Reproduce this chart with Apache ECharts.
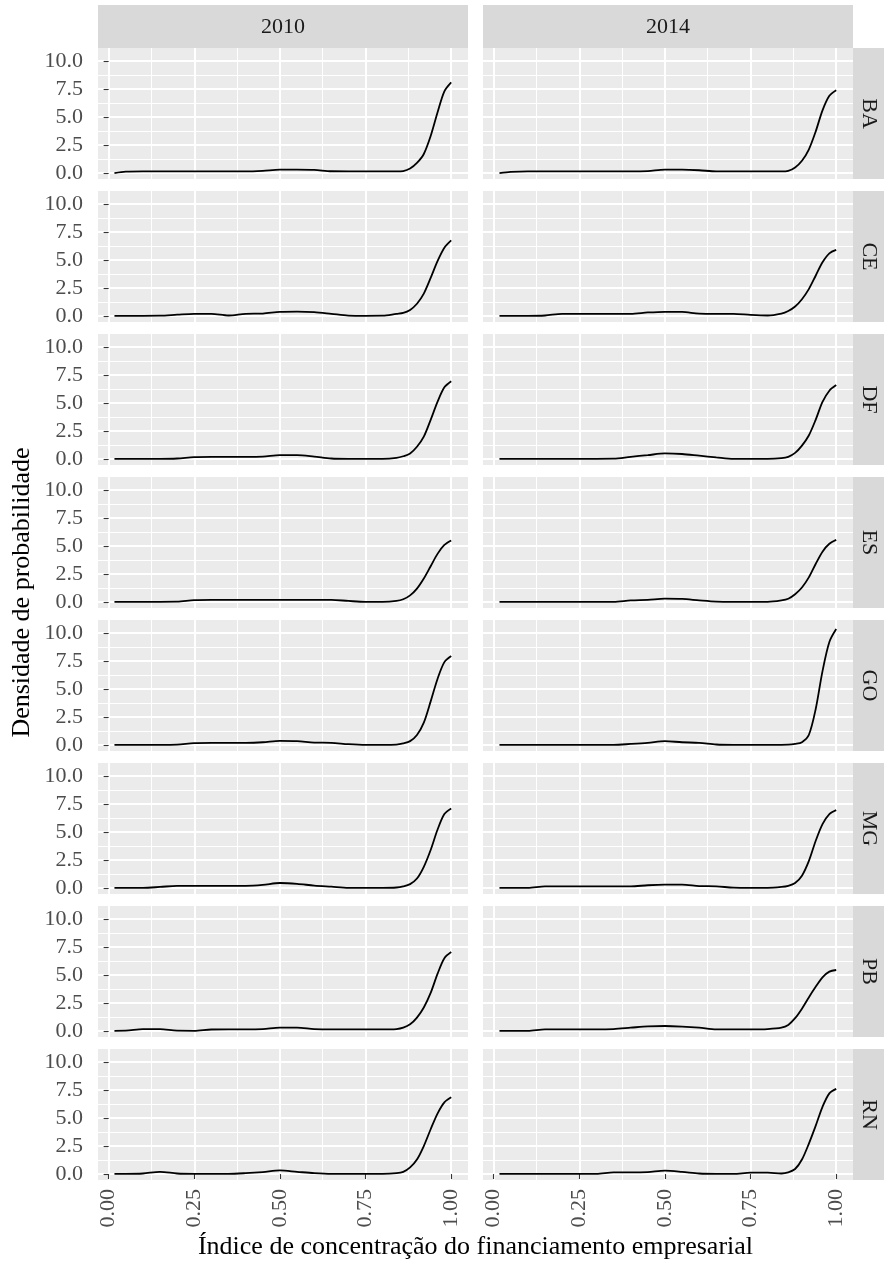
<!DOCTYPE html>
<html>
<head>
<meta charset="utf-8">
<script src="https://cdn.jsdelivr.net/npm/echarts@6/dist/echarts.min.js"></script>
<style>
  html, body { margin: 0; padding: 0; background: #ffffff; }
  #chart { width: 885px; height: 1272px; }
</style>
</head>
<body>
<div id="chart"></div>
<script>
// Facets: one column per election year, one row per state
const years = ['2010', '2014'];
const states = ['BA', 'CE', 'DF', 'ES', 'GO', 'MG', 'PB', 'RN'];

// Evaluation points of the density curves (concentration index)
const xPoints = [0.017, 0.05, 0.10, 0.15, 0.20, 0.25, 0.30, 0.35, 0.40, 0.45, 0.50, 0.55, 0.60,
                 0.65, 0.70, 0.75, 0.80, 0.84, 0.86, 0.88, 0.90, 0.92, 0.94, 0.96, 0.98, 1.00];

// Tick values and labels
const xTicks = [0, 0.25, 0.5, 0.75, 1];
const xMinorTicks = [0.125, 0.375, 0.625, 0.875];
const yTicks = [0, 2.5, 5, 7.5, 10];
const yMinorTicks = [1.25, 3.75, 6.25, 8.75];

// Density values per state and year
const ba2010 = [0.00, 0.13, 0.15, 0.15, 0.15, 0.15, 0.15, 0.15, 0.15, 0.20, 0.30, 0.30, 0.28, 0.16, 0.15, 0.15, 0.15, 0.15, 0.18, 0.40, 0.90, 1.70, 3.30, 5.40, 7.30, 8.10];
const ba2014 = [0.00, 0.10, 0.15, 0.15, 0.15, 0.15, 0.15, 0.15, 0.15, 0.18, 0.30, 0.30, 0.25, 0.15, 0.15, 0.15, 0.15, 0.15, 0.20, 0.50, 1.10, 2.10, 3.70, 5.60, 6.90, 7.40];
const ce2010 = [0.02, 0.02, 0.02, 0.03, 0.12, 0.20, 0.20, 0.05, 0.20, 0.22, 0.38, 0.40, 0.35, 0.20, 0.04, 0.02, 0.03, 0.20, 0.28, 0.55, 1.10, 2.00, 3.40, 4.90, 6.10, 6.75];
const ce2014 = [0.02, 0.02, 0.02, 0.05, 0.20, 0.20, 0.20, 0.20, 0.20, 0.32, 0.38, 0.37, 0.22, 0.20, 0.20, 0.10, 0.05, 0.22, 0.45, 0.85, 1.50, 2.40, 3.60, 4.80, 5.60, 5.90];
const df2010 = [0.02, 0.02, 0.02, 0.02, 0.05, 0.18, 0.20, 0.20, 0.20, 0.22, 0.35, 0.35, 0.22, 0.05, 0.02, 0.02, 0.02, 0.10, 0.25, 0.50, 1.10, 2.00, 3.50, 5.10, 6.40, 6.95];
const df2014 = [0.02, 0.02, 0.02, 0.02, 0.02, 0.02, 0.02, 0.03, 0.20, 0.35, 0.50, 0.45, 0.30, 0.15, 0.02, 0.02, 0.02, 0.08, 0.20, 0.55, 1.20, 2.10, 3.50, 5.10, 6.10, 6.60];
const es2010 = [0.02, 0.02, 0.02, 0.02, 0.03, 0.18, 0.20, 0.20, 0.20, 0.20, 0.20, 0.20, 0.20, 0.20, 0.10, 0.02, 0.02, 0.10, 0.25, 0.60, 1.20, 2.10, 3.20, 4.30, 5.10, 5.50];
const es2014 = [0.02, 0.02, 0.02, 0.02, 0.02, 0.02, 0.02, 0.02, 0.15, 0.20, 0.30, 0.28, 0.15, 0.04, 0.02, 0.02, 0.02, 0.15, 0.30, 0.70, 1.30, 2.20, 3.40, 4.50, 5.20, 5.55];
const go2010 = [0.02, 0.02, 0.02, 0.02, 0.04, 0.18, 0.20, 0.20, 0.20, 0.25, 0.38, 0.36, 0.22, 0.20, 0.08, 0.02, 0.02, 0.04, 0.15, 0.35, 0.90, 2.00, 3.90, 5.90, 7.40, 7.95];
const go2014 = [0.02, 0.02, 0.02, 0.02, 0.02, 0.02, 0.02, 0.02, 0.10, 0.20, 0.35, 0.25, 0.20, 0.05, 0.02, 0.02, 0.02, 0.02, 0.03, 0.10, 0.25, 0.90, 3.20, 6.60, 9.20, 10.35];
const mg2010 = [0.02, 0.02, 0.02, 0.10, 0.20, 0.20, 0.20, 0.20, 0.20, 0.28, 0.45, 0.38, 0.22, 0.12, 0.02, 0.02, 0.02, 0.05, 0.15, 0.35, 0.85, 1.90, 3.40, 5.20, 6.60, 7.10];
const mg2014 = [0.02, 0.02, 0.02, 0.15, 0.15, 0.15, 0.15, 0.15, 0.15, 0.25, 0.30, 0.30, 0.18, 0.15, 0.04, 0.02, 0.02, 0.10, 0.20, 0.45, 1.10, 2.40, 4.20, 5.70, 6.60, 6.95];
const pb2010 = [0.02, 0.03, 0.18, 0.18, 0.03, 0.02, 0.14, 0.15, 0.15, 0.18, 0.30, 0.30, 0.18, 0.15, 0.15, 0.15, 0.15, 0.18, 0.30, 0.60, 1.20, 2.10, 3.40, 5.10, 6.50, 7.05];
const pb2014 = [0.02, 0.02, 0.02, 0.15, 0.15, 0.15, 0.15, 0.18, 0.30, 0.42, 0.45, 0.40, 0.30, 0.15, 0.15, 0.15, 0.18, 0.30, 0.55, 1.15, 2.00, 3.00, 3.95, 4.80, 5.30, 5.45];
const rn2010 = [0.02, 0.02, 0.05, 0.20, 0.05, 0.02, 0.02, 0.02, 0.08, 0.18, 0.32, 0.20, 0.08, 0.02, 0.02, 0.02, 0.02, 0.08, 0.20, 0.60, 1.30, 2.50, 4.00, 5.40, 6.40, 6.85];
const rn2014 = [0.02, 0.02, 0.02, 0.02, 0.02, 0.02, 0.02, 0.15, 0.15, 0.18, 0.30, 0.20, 0.05, 0.02, 0.02, 0.12, 0.12, 0.05, 0.15, 0.45, 1.30, 2.70, 4.30, 6.00, 7.20, 7.60];

const densities = {
  BA: [ba2010, ba2014], CE: [ce2010, ce2014], DF: [df2010, df2014], ES: [es2010, es2014],
  GO: [go2010, go2014], MG: [mg2010, mg2014], PB: [pb2010, pb2014], RN: [rn2010, rn2014]
};

// Axis extents (data range plus a 5% margin on each side)
const X_MIN = -0.031, X_MAX = 1.049;
const Y_MIN = -0.53, Y_MAX = 11.16;

// Panel layout in pixels
const COL_LEFT = [98, 483];
const PANEL_W = 370;
const PANEL_TOP = 48;
const ROW_STEP = 143;
const PANEL_H = 131;
const STRIP_TOP = 5;
const STRIP_RIGHT_X = 853;
const STRIP_RIGHT_W = 31;

const SERIF = '"Liberation Serif", "Times New Roman", serif';
const TICK_FONT = 22;
const TITLE_FONT = 26;
const PANEL_BG = '#EBEBEB';
const STRIP_BG = '#D9D9D9';

const grids = [], xAxes = [], yAxes = [], series = [], graphics = [];

states.forEach((st, r) => {
  years.forEach((yr, c) => {
    const p = grids.length;
    const isLeft = c === 0;
    const isBottom = r === states.length - 1;
    grids.push({
      left: COL_LEFT[c], top: PANEL_TOP + r * ROW_STEP, width: PANEL_W, height: PANEL_H,
      show: true, backgroundColor: PANEL_BG, borderWidth: 0
    });
    // minor grid lines
    xAxes.push({
      gridIndex: p, type: 'value', min: X_MIN, max: X_MAX,
      axisLine: { show: false }, axisLabel: { show: false },
      axisTick: { show: false, customValues: xMinorTicks },
      splitLine: { show: true, lineStyle: { color: '#FFFFFF', width: 1 } }
    });
    yAxes.push({
      gridIndex: p, type: 'value', min: Y_MIN, max: Y_MAX,
      axisLine: { show: false }, axisLabel: { show: false },
      axisTick: { show: false, customValues: yMinorTicks },
      splitLine: { show: true, lineStyle: { color: '#FFFFFF', width: 1 } }
    });
    // major grid lines, ticks and labels
    xAxes.push({
      gridIndex: p, type: 'value', min: X_MIN, max: X_MAX, position: 'bottom',
      axisLine: { show: false },
      axisTick: { show: isBottom, customValues: xTicks, length: 5, lineStyle: { color: '#333333', width: 1.1 } },
      axisLabel: {
        show: isBottom, customValues: xTicks, rotate: 90, margin: 9,
        formatter: v => v.toFixed(2),
        fontFamily: SERIF, fontSize: TICK_FONT, color: '#4D4D4D'
      },
      splitLine: { show: true, lineStyle: { color: '#FFFFFF', width: 2 } }
    });
    yAxes.push({
      gridIndex: p, type: 'value', min: Y_MIN, max: Y_MAX, position: 'left',
      axisLine: { show: false },
      axisTick: { show: isLeft, customValues: yTicks, length: 5, lineStyle: { color: '#333333', width: 1.1 } },
      axisLabel: {
        show: isLeft, customValues: yTicks, margin: 15,
        formatter: v => v.toFixed(1),
        fontFamily: SERIF, fontSize: TICK_FONT, color: '#4D4D4D'
      },
      splitLine: { show: true, lineStyle: { color: '#FFFFFF', width: 2 } }
    });
    const ys = densities[st][c];
    series.push({
      name: st + ' ' + yr,
      type: 'line',
      xAxisIndex: 2 * p + 1, yAxisIndex: 2 * p + 1,
      data: xPoints.map((x, i) => [x, ys[i]]),
      showSymbol: false, smooth: 0.3, silent: true,
      lineStyle: { color: '#000000', width: 1.8 },
      z: 5
    });
  });
});

// top strips with the years
years.forEach((yr, c) => {
  graphics.push({
    type: 'rect', silent: true,
    shape: { x: COL_LEFT[c], y: STRIP_TOP, width: PANEL_W, height: PANEL_TOP - STRIP_TOP },
    style: { fill: STRIP_BG }
  });
  graphics.push({
    type: 'text', silent: true,
    x: COL_LEFT[c] + PANEL_W / 2, y: (STRIP_TOP + PANEL_TOP) / 2 + 1,
    style: { text: yr, font: TICK_FONT + 'px ' + SERIF, fill: '#1A1A1A', align: 'center', verticalAlign: 'middle' }
  });
});

// right strips with the states
states.forEach((st, r) => {
  const top = PANEL_TOP + r * ROW_STEP;
  graphics.push({
    type: 'rect', silent: true,
    shape: { x: STRIP_RIGHT_X, y: top, width: STRIP_RIGHT_W, height: PANEL_H },
    style: { fill: STRIP_BG }
  });
  graphics.push({
    type: 'text', silent: true,
    x: STRIP_RIGHT_X + STRIP_RIGHT_W / 2, y: top + PANEL_H / 2,
    rotation: -Math.PI / 2,
    style: { text: st, font: TICK_FONT + 'px ' + SERIF, fill: '#1A1A1A', align: 'center', verticalAlign: 'middle' }
  });
});

// axis titles
const plotBottom = PANEL_TOP + (states.length - 1) * ROW_STEP + PANEL_H;
graphics.push({
  type: 'text', silent: true,
  x: 22, y: (STRIP_TOP + plotBottom) / 2, rotation: Math.PI / 2,
  style: { text: 'Densidade de probabilidade', font: TITLE_FONT + 'px ' + SERIF, fill: '#000000', align: 'center', verticalAlign: 'middle' }
});
graphics.push({
  type: 'text', silent: true,
  x: (COL_LEFT[0] + COL_LEFT[1] + PANEL_W) / 2, y: 1247,
  style: { text: 'Índice de concentração do financiamento empresarial', font: TITLE_FONT + 'px ' + SERIF, fill: '#000000', align: 'center', verticalAlign: 'middle' }
});

const chart = echarts.init(document.getElementById('chart'), null, { renderer: 'canvas' });
chart.setOption({
  backgroundColor: '#FFFFFF',
  animation: false,
  grid: grids,
  xAxis: xAxes,
  yAxis: yAxes,
  series: series,
  graphic: graphics
});
</script>
</body>
</html>
